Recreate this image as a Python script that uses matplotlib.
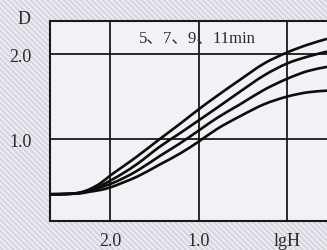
import matplotlib
matplotlib.use("Agg")
import matplotlib.pyplot as plt
from matplotlib.patches import Rectangle, PathPatch
from matplotlib.path import Path

# lgH positions (axis runs from high lgH on the left to low on the right)
lgH = [2.68, 2.45, 2.34, 2.23, 2.11, 2.0, 1.85, 1.69, 1.44, 1.21, 1.0, 0.79, 0.53, 0.26, 0.0, -0.23, -0.45]
curve_a = [0.35, 0.355, 0.37, 0.41, 0.48, 0.57, 0.68, 0.80, 1.00, 1.18, 1.35, 1.51, 1.70, 1.89, 2.02, 2.11, 2.18]
curve_b = [0.35, 0.355, 0.37, 0.40, 0.45, 0.51, 0.60, 0.71, 0.91, 1.07, 1.22, 1.37, 1.56, 1.75, 1.89, 1.97, 2.03]
curve_c = [0.35, 0.355, 0.365, 0.39, 0.43, 0.47, 0.54, 0.63, 0.80, 0.95, 1.10, 1.25, 1.41, 1.58, 1.71, 1.80, 1.85]
curve_d = [0.35, 0.355, 0.36, 0.38, 0.40, 0.43, 0.49, 0.56, 0.70, 0.83, 0.97, 1.12, 1.27, 1.41, 1.50, 1.55, 1.57]
curves = [curve_a, curve_b, curve_c, curve_d]

x_ticks = [2.0, 1.0, 0.0]
x_labels = ["2.0", "1.0", "lgH"]
y_ticks = [1.0, 2.0]
y_labels = ["1.0", "2.0"]
y_title = "D"
annotation = "5、7、9、11min"


def smooth_path(xs, ys):
    """Cubic Hermite path through the data points (rendered as Bezier segments)."""
    n = len(xs)
    slopes = []
    for i in range(n):
        if i == 0:
            m = (ys[1] - ys[0]) / (xs[1] - xs[0])
        elif i == n - 1:
            m = (ys[-1] - ys[-2]) / (xs[-1] - xs[-2])
        else:
            s1 = (ys[i] - ys[i - 1]) / (xs[i] - xs[i - 1])
            s2 = (ys[i + 1] - ys[i]) / (xs[i + 1] - xs[i])
            m = (s1 + s2) / 2 if s1 * s2 > 0 else 0.0
        slopes.append(m)
    verts = [(xs[0], ys[0])]
    codes = [Path.MOVETO]
    for i in range(n - 1):
        dx = xs[i + 1] - xs[i]
        verts += [(xs[i] + dx / 3, ys[i] + slopes[i] * dx / 3),
                  (xs[i + 1] - dx / 3, ys[i + 1] - slopes[i + 1] * dx / 3),
                  (xs[i + 1], ys[i + 1])]
        codes += [Path.CURVE4] * 3
    return Path(verts, codes)


W, H = 327, 251
plt.rcParams["hatch.linewidth"] = 1.2
plt.rcParams["hatch.color"] = "#f0eff4"
fig = plt.figure(figsize=(W / 100, H / 100), dpi=100)
fig.patch.set_facecolor("#d6d5e0")
bg = Rectangle((0, 0), 1, 1, transform=fig.transFigure, facecolor="#d6d5e0",
               edgecolor="#f0f0f4", hatch="\\\\\\\\\\\\", linewidth=0, zorder=-10)
fig.patches.append(bg)

left, right, bottom, top = 50, 327, 222, 22
ax = fig.add_axes([left / W, (H - bottom) / H, (right - left) / W, (bottom - top) / H])
ax.set_facecolor("#f3f1f5")
ax.set_xlim(2.68, -0.45)
ax.set_ylim(0.035, 2.39)

for v in x_ticks:
    ax.axvline(v, color="#1a1a1a", lw=1.3, zorder=1)
for v in y_ticks:
    ax.axhline(v, color="#1a1a1a", lw=1.3, zorder=1)

for c in curves:
    ax.add_patch(PathPatch(smooth_path(lgH, c), facecolor="none", edgecolor="#0d0d0d",
                           lw=1.9, capstyle="butt", zorder=3))

for s in ["left", "top", "bottom"]:
    ax.spines[s].set_linewidth(1.5)
    ax.spines[s].set_color("#1a1a1a")
ax.spines["right"].set_visible(False)

serif = ["Liberation Serif", "Noto Sans CJK SC", "DejaVu Sans"]
ax.set_xticks(x_ticks)
ax.set_xticklabels(x_labels, family=serif, fontsize=13, color="#2a2a2a")
ax.set_yticks(y_ticks)
ax.set_yticklabels(y_labels, family=serif, fontsize=13, color="#2a2a2a")
ax.tick_params(axis="both", length=0)
ax.tick_params(axis="x", pad=8)
ax.tick_params(axis="y", pad=13)

fig.text(24 / W, 1 - 19 / H, y_title, family=serif, fontsize=13, color="#2a2a2a",
         ha="center", va="center")
ax.text(1.67, 2.20, annotation, family=serif, fontsize=12, color="#2a2a2a",
        ha="left", va="center", zorder=4)

fig.savefig("out.png", dpi=100)
